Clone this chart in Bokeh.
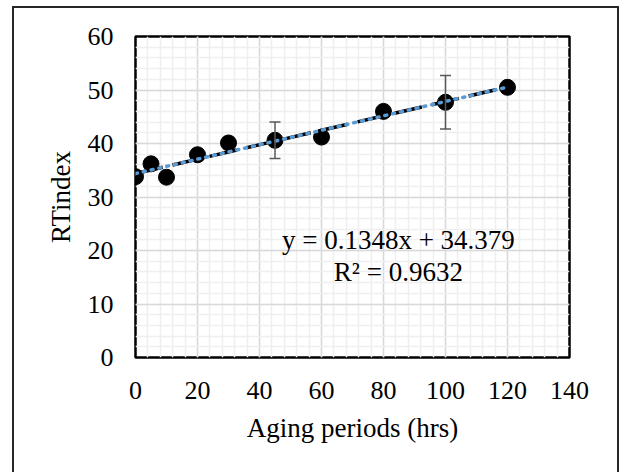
from bokeh.plotting import figure
from bokeh.models import (Range1d, SingleIntervalTicker, Label, Whisker, TeeHead,
                          ColumnDataSource)
from bokeh.embed import file_html
from bokeh.resources import INLINE

# ---- data ----
aging_hrs = [0, 5, 10, 20, 30, 45, 60, 80, 100, 120]
rt_index = [33.8, 36.2, 33.7, 37.9, 40.1, 40.6, 41.2, 46.0, 47.7, 50.5]
err_x = [45, 100]
err_y = [40.6, 47.7]
err_size = [3.4, 5.0]
slope = 0.1348
intercept = 34.379
fit_x = [0, 120]
eq_text = "y = 0.1348x + 34.379"
r2_text = "R² = 0.9632"

FONT = "Liberation Serif"
EDGE = "#262626"

# outer chart border drawn as CSS background behind a transparent canvas border
border_css = {
    "background-color": "white",
    "background-image": ", ".join([f"linear-gradient({EDGE}, {EDGE})"] * 3),
    "background-size": "2px 480px, 607px 2px, 2px 480px",
    "background-position": "12px 6px, 12px 6px, 617px 6px",
    "background-repeat": "no-repeat",
}

p = figure(width=620, height=472, output_backend="svg", toolbar_location=None,
           x_range=Range1d(0, 140), y_range=Range1d(0, 60),
           min_border_left=135, min_border_right=51, min_border_top=36,
           min_border_bottom=115, styles=border_css)

p.outline_line_color = "black"
p.outline_line_width = 2.5
p.background_fill_color = "white"
p.border_fill_color = None

p.xaxis.ticker = SingleIntervalTicker(interval=20, num_minor_ticks=5)
p.yaxis.ticker = SingleIntervalTicker(interval=10, num_minor_ticks=5)

for ax in (p.xaxis[0], p.yaxis[0]):
    ax.axis_line_color = None
    ax.major_tick_line_color = None
    ax.minor_tick_line_color = None
    ax.major_tick_out = 0
    ax.minor_tick_out = 0
    ax.major_tick_in = 0
    ax.minor_tick_in = 0
    ax.major_label_text_font = FONT
    ax.major_label_text_font_size = "26px"
    ax.major_label_text_color = "black"
    ax.axis_label_text_font = FONT
    ax.axis_label_text_font_size = "27px"
    ax.axis_label_text_font_style = "normal"
    ax.axis_label_text_color = "black"

p.xaxis.axis_label = "Aging periods (hrs)"
p.yaxis.axis_label = "RTindex"
p.xaxis.major_label_standoff = 24
p.yaxis.major_label_standoff = 22
p.xaxis.axis_label_standoff = 11
p.yaxis.axis_label_standoff = 9

for g in (p.xgrid[0], p.ygrid[0]):
    g.grid_line_color = "#d9d9d9"
    g.grid_line_width = 1.5
    g.minor_grid_line_color = "#efefef"
    g.minor_grid_line_width = 1.5

# error bars
esrc = ColumnDataSource(dict(x=err_x,
                             lo=[y - e for y, e in zip(err_y, err_size)],
                             hi=[y + e for y, e in zip(err_y, err_size)]))
w = Whisker(source=esrc, base="x", lower="lo", upper="hi", dimension="height",
            line_color="#595959", line_width=1.5, level="glyph",
            upper_head=TeeHead(size=11, line_color="#595959", line_width=1.5),
            lower_head=TeeHead(size=11, line_color="#595959", line_width=1.5))
p.add_layout(w)

# points
p.scatter(aging_hrs, rt_index, size=16, marker="circle", fill_color="black",
          line_color="black")

# trend lines
fit_y = [slope * x + intercept for x in fit_x]
p.line(fit_x, fit_y, line_color="black", line_width=3.5, line_dash="28 10")
p.line(fit_x, fit_y, line_color="#5b9bd5", line_width=3.5, line_dash="2 6",
       line_cap="round")

p.add_layout(Label(x=84.8, y=21.9, text=eq_text, text_align="center",
                   text_baseline="middle", text_font=FONT,
                   text_font_size="27px", text_color="black"))
p.add_layout(Label(x=84.8, y=16.0, text=r2_text, text_align="center",
                   text_baseline="middle", text_font=FONT,
                   text_font_size="27px", text_color="black"))

open("out.html", "w").write(file_html(p, INLINE))
